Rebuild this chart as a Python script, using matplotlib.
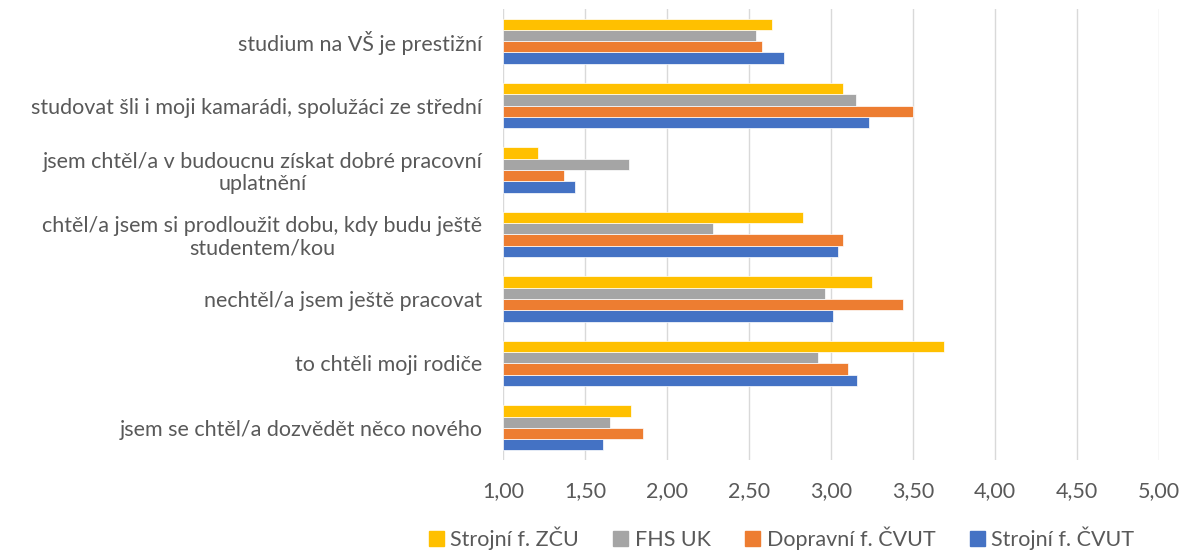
import numpy as np
import matplotlib.pyplot as plt
from matplotlib.ticker import FuncFormatter
from matplotlib.patches import Patch

plt.rcParams["font.family"] = ["Lato", "DejaVu Sans"]

# categories, bottom to top
categories = [
    "jsem se chtěl/a dozvědět něco nového",
    "to chtěli moji rodiče",
    "nechtěl/a jsem ještě pracovat",
    "chtěl/a jsem si prodloužit dobu, kdy budu ještě\nstudentem/kou",
    "jsem chtěl/a v budoucnu získat dobré pracovní\nuplatnění",
    "studovat šli i moji kamarádi, spolužáci ze střední",
    "studium na VŠ je prestižní",
]

series_names = ["Strojní f. ČVUT", "Dopravní f. ČVUT", "FHS UK", "Strojní f. ZČU"]
strojni_cvut = [1.61, 3.16, 3.01, 3.04, 1.44, 3.23, 2.71]
dopravni_cvut = [1.85, 3.10, 3.44, 3.07, 1.37, 3.50, 2.58]
fhs_uk = [1.65, 2.92, 2.96, 2.28, 1.77, 3.15, 2.54]
strojni_zcu = [1.78, 3.69, 3.25, 2.83, 1.21, 3.07, 2.64]

colors = ["#4472C4", "#ED7D31", "#A5A5A5", "#FFC000"]
values = [strojni_cvut, dopravni_cvut, fhs_uk, strojni_zcu]

fig = plt.figure(figsize=(11.84, 5.55), dpi=100)
ax = fig.add_axes([0.425, 0.171, 0.554, 0.813])

y = np.arange(len(categories))
h = 0.175
for i, (vals, c) in enumerate(zip(values, colors)):
    offs = (i - 1.5) * h
    ax.barh(y + offs, np.array(vals) - 1, left=1, height=h, color=c,
            edgecolor="white", linewidth=0.5, zorder=3)

ax.set_xlim(1, 5)
ax.set_ylim(-0.5, len(categories) - 0.5)
ax.set_xticks(np.arange(1, 5.01, 0.5))
ax.xaxis.set_major_formatter(FuncFormatter(lambda v, p: f"{v:.2f}".replace(".", ",")))
ax.set_yticks(y)
ax.set_yticklabels(categories, multialignment="center", linespacing=1.15)
ax.tick_params(axis="both", length=0, labelsize=15.5, colors="#595959")
ax.tick_params(axis="x", pad=15)
ax.tick_params(axis="y", pad=15)
ax.grid(axis="x", color="#D9D9D9", linewidth=1, zorder=0)
for s in ax.spines.values():
    s.set_visible(False)

handles = [Patch(color=c) for c in colors[::-1]]
fig.legend(handles, series_names[::-1], loc="lower center", ncol=4,
           bbox_to_anchor=(0.66, -0.012), frameon=False, fontsize=15.5,
           handlelength=0.7, handleheight=0.7, handletextpad=0.3,
           columnspacing=1.6, labelcolor="#595959", borderpad=0.05)

fig.savefig("out.png", dpi=100)
